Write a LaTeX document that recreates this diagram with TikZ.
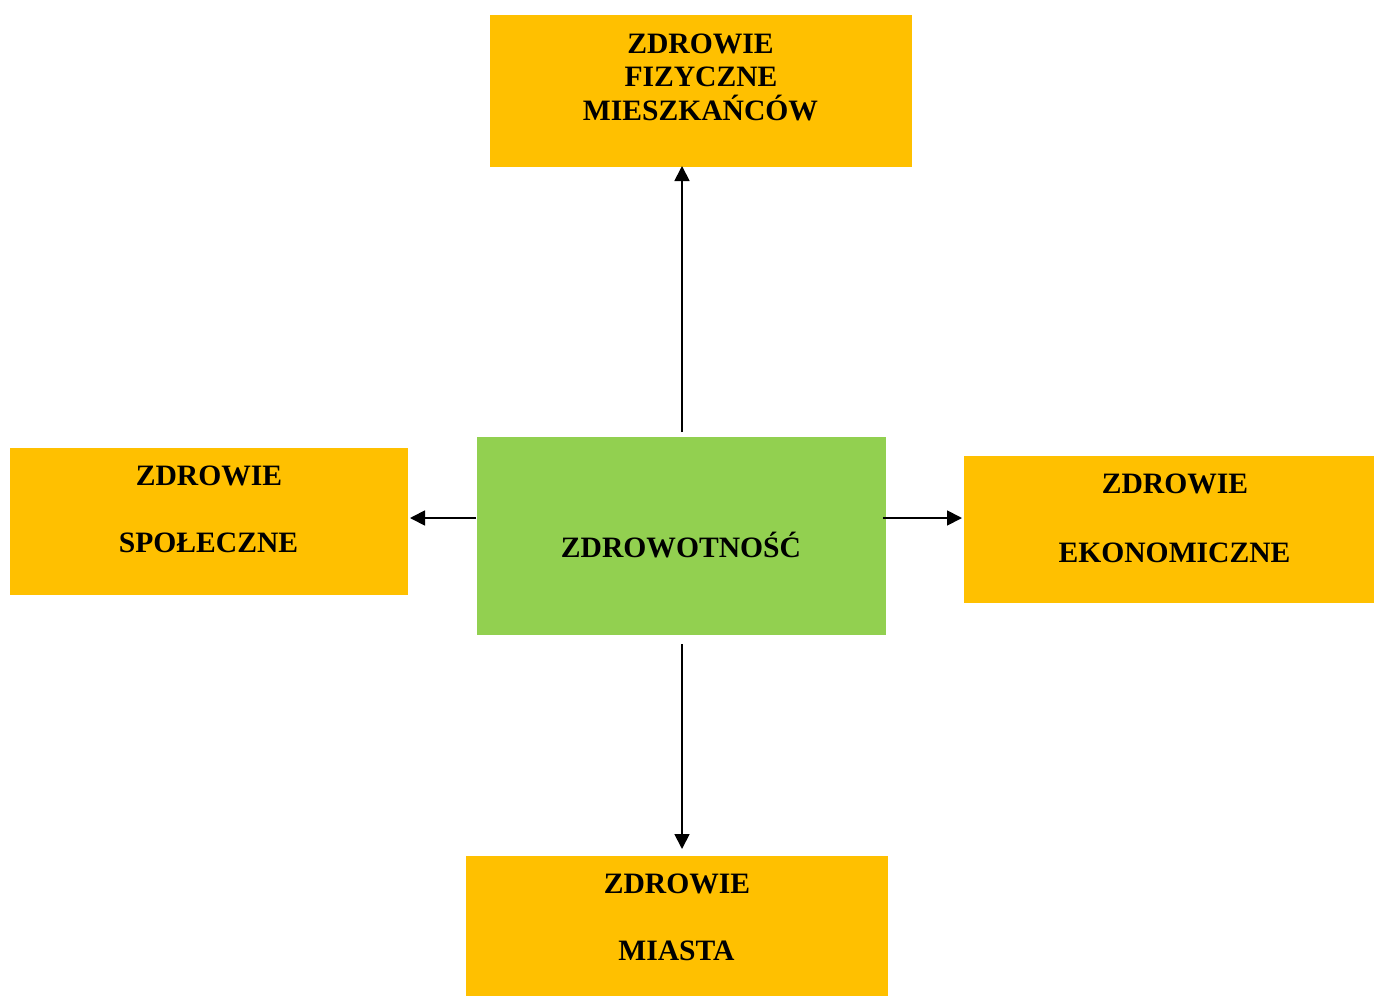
\documentclass[tikz,border=0pt]{standalone}
\usepackage{fontspec}
\setmainfont{Liberation Serif}
\usetikzlibrary{arrows.meta}
\definecolor{boxorange}{HTML}{FFC000}
\definecolor{boxgreen}{HTML}{92D050}
\begin{document}
\begin{tikzpicture}[x=1pt,y=-1pt,
  obox/.style={fill=boxorange,draw=none,inner sep=0pt},
  gbox/.style={fill=boxgreen,draw=none,inner sep=0pt},
  lbl/.style={anchor=base,inner sep=0pt,font=\fontsize{29.6}{33}\selectfont\bfseries},
  arr/.style={line width=1.8pt,-{Triangle[length=15pt,width=15pt]}}]
\useasboundingbox (0,0) rectangle (1374,996);
% boxes
\node[obox,minimum width=422pt,minimum height=152pt] (top) at (701,91) {};
\node[obox,minimum width=398pt,minimum height=147pt] (left) at (209,521.5) {};
\node[gbox,minimum width=409pt,minimum height=198pt] (mid) at (681.5,536) {};
\node[obox,minimum width=410pt,minimum height=147pt] (right) at (1169,529.5) {};
\node[obox,minimum width=422pt,minimum height=140pt] (bot) at (677,926) {};
% labels
\node[lbl] (t1) at (700.5,53) {ZDROWIE};
\node[lbl] (t2) at (701,86.5) {FIZYCZNE};
\node[lbl] (t3) at (700.5,120) {MIESZKAŃCÓW};
\node[lbl] (l1) at (209,485) {ZDROWIE};
\node[lbl] (l2) at (208.5,552) {SPOŁECZNE};
\node[lbl] (m1) at (681,557) {ZDROWOTNOŚĆ};
\node[lbl] (r1) at (1175,493) {ZDROWIE};
\node[lbl] (r2) at (1174.5,562) {EKONOMICZNE};
\node[lbl] (b1) at (677,893) {ZDROWIE};
\node[lbl] (b2) at (676.5,960) {MIASTA};
% arrow ends
\coordinate (upS) at (682,432);
\coordinate (upE) at (682,166);
\coordinate (lfS) at (476,518);
\coordinate (lfE) at (410,518);
\coordinate (rtS) at (883,518);
\coordinate (rtE) at (962,518);
\coordinate (dnS) at (682,644);
\coordinate (dnE) at (682,849);
\draw[arr] (upS) -- (upE);
\draw[arr] (lfS) -- (lfE);
\draw[arr] (rtS) -- (rtE);
\draw[arr] (dnS) -- (dnE);
\end{tikzpicture}
\end{document}
